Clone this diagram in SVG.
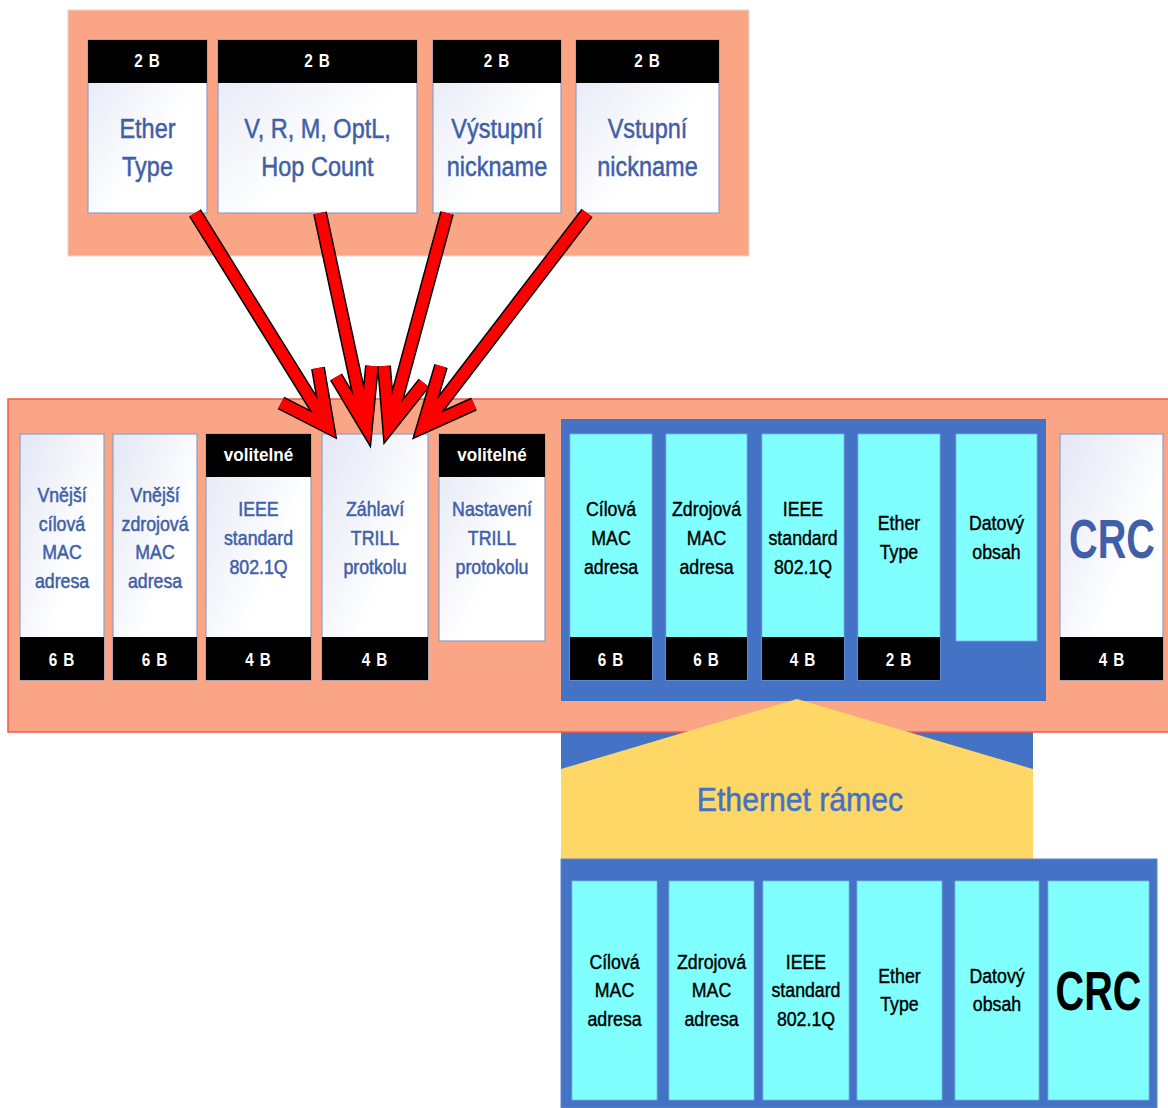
<svg xmlns="http://www.w3.org/2000/svg" width="1168" height="1108" viewBox="0 0 1168 1108">
<defs>
<linearGradient id="wg" x1="0" y1="0" x2="1" y2="1">
<stop offset="0" stop-color="#E3E7F4"/>
<stop offset="0.6" stop-color="#FFFFFF"/>
<stop offset="1" stop-color="#FFFFFF"/>
</linearGradient>
<style>
.salmon{fill:#F9A586}
.wbox{fill:url(#wg);stroke:#8C9FCB;stroke-width:1.2}
.hdr{fill:#000000}
.blue{fill:#4472C4}
.cyan{fill:#80FFFF;stroke:#7FB0E0;stroke-width:0.8}
.t{font-family:"Liberation Sans",Arial,sans-serif;text-anchor:middle;transform-box:fill-box;transform-origin:center}
.bt{fill:#3F5FA8;stroke:#3F5FA8;stroke-width:0.5}
.blk{fill:#000000;stroke:#000000;stroke-width:0.4}
.wt{fill:#FFFFFF;font-weight:bold}
.big{font-size:27px;transform:scaleX(0.87)}
.mid{font-size:19.5px;transform:scaleX(0.91)}
.sz{font-size:18px;letter-spacing:1px;transform:scaleX(0.85)}
.vol{font-size:18px;transform:scaleX(0.95)}
.crc{font-size:55px;font-weight:bold;stroke-width:0;transform:scaleX(0.72)}
.eth{font-size:33px;fill:#4472C4;stroke:#4472C4;stroke-width:0.5;transform:scaleX(0.915)}
.ao{fill:none;stroke:#000000;stroke-width:14;stroke-linejoin:miter;stroke-miterlimit:6}
.ai{fill:none;stroke:#FF0000;stroke-width:11;stroke-linejoin:miter;stroke-miterlimit:6}
</style>
</defs>

<!-- top container -->
<rect class="salmon" x="68" y="10" width="681" height="246" stroke="#E6D6CE" stroke-width="1"/>

<g id="top-ethertype">
<rect class="wbox" x="88" y="40" width="119" height="173"/>
<rect class="hdr" x="88" y="40" width="119" height="43"/>
<text class="t wt sz" x="147.5" y="67">2 B</text>
<text class="t bt big" x="147.5" y="138">Ether</text>
<text class="t bt big" x="147.5" y="176">Type</text>
</g>
<g id="top-flags">
<rect class="wbox" x="218" y="40" width="199" height="173"/>
<rect class="hdr" x="218" y="40" width="199" height="43"/>
<text class="t wt sz" x="317.5" y="67">2 B</text>
<text class="t bt big" x="317.5" y="138">V, R, M, OptL,</text>
<text class="t bt big" x="317.5" y="176">Hop Count</text>
</g>
<g id="top-egress">
<rect class="wbox" x="433" y="40" width="128" height="173"/>
<rect class="hdr" x="433" y="40" width="128" height="43"/>
<text class="t wt sz" x="497" y="67">2 B</text>
<text class="t bt big" x="497" y="138">Výstupní</text>
<text class="t bt big" x="497" y="176">nickname</text>
</g>
<g id="top-ingress">
<rect class="wbox" x="576" y="40" width="143" height="173"/>
<rect class="hdr" x="576" y="40" width="143" height="43"/>
<text class="t wt sz" x="647.5" y="67">2 B</text>
<text class="t bt big" x="647.5" y="138">Vstupní</text>
<text class="t bt big" x="647.5" y="176">nickname</text>
</g>

<!-- lower blue behind yellow -->
<rect class="blue" x="561" y="720" width="472" height="140"/>

<!-- middle band -->
<rect class="salmon" x="8" y="399" width="1162" height="333" stroke="#F25A4E" stroke-width="1.5"/>

<g id="outer-dst">
<rect class="wbox" x="20" y="434" width="84" height="246"/>
<rect class="hdr" x="20" y="637" width="84" height="43"/>
<text class="t bt mid" x="62" y="502">Vnější</text>
<text class="t bt mid" x="62" y="531">cílová</text>
<text class="t bt mid" x="62" y="559">MAC</text>
<text class="t bt mid" x="62" y="588">adresa</text>
<text class="t wt sz" x="62" y="666">6 B</text>
</g>
<g id="outer-src">
<rect class="wbox" x="113" y="434" width="84" height="246"/>
<rect class="hdr" x="113" y="637" width="84" height="43"/>
<text class="t bt mid" x="155" y="502">Vnější</text>
<text class="t bt mid" x="155" y="531">zdrojová</text>
<text class="t bt mid" x="155" y="559">MAC</text>
<text class="t bt mid" x="155" y="588">adresa</text>
<text class="t wt sz" x="155" y="666">6 B</text>
</g>
<g id="outer-vlan">
<rect class="wbox" x="206" y="434" width="105" height="246"/>
<rect class="hdr" x="206" y="434" width="105" height="43"/>
<rect class="hdr" x="206" y="637" width="105" height="43"/>
<text class="t wt vol" x="258.5" y="461">volitelné</text>
<text class="t bt mid" x="258.5" y="516">IEEE</text>
<text class="t bt mid" x="258.5" y="545">standard</text>
<text class="t bt mid" x="258.5" y="574">802.1Q</text>
<text class="t wt sz" x="258.5" y="666">4 B</text>
</g>
<g id="trill-header">
<rect class="wbox" x="322" y="434" width="106" height="246"/>
<rect class="hdr" x="322" y="637" width="106" height="43"/>
<text class="t bt mid" x="375" y="516">Záhlaví</text>
<text class="t bt mid" x="375" y="545">TRILL</text>
<text class="t bt mid" x="375" y="574">protkolu</text>
<text class="t wt sz" x="375" y="666">4 B</text>
</g>
<g id="trill-options">
<rect class="wbox" x="439" y="434" width="106" height="207"/>
<rect class="hdr" x="439" y="434" width="106" height="43"/>
<text class="t wt vol" x="492" y="461">volitelné</text>
<text class="t bt mid" x="492" y="516">Nastavení</text>
<text class="t bt mid" x="492" y="545">TRILL</text>
<text class="t bt mid" x="492" y="574">protokolu</text>
</g>

<g id="inner-frame">
<rect class="blue" x="561" y="419" width="485" height="282"/>
<g id="inner-dst">
<rect class="cyan" x="570" y="434" width="82" height="246"/>
<rect class="hdr" x="570" y="637" width="82" height="43"/>
<text class="t blk mid" x="611" y="516">Cílová</text>
<text class="t blk mid" x="611" y="545">MAC</text>
<text class="t blk mid" x="611" y="574">adresa</text>
<text class="t wt sz" x="611" y="666">6 B</text>
</g>
<g id="inner-src">
<rect class="cyan" x="666" y="434" width="81" height="246"/>
<rect class="hdr" x="666" y="637" width="81" height="43"/>
<text class="t blk mid" x="706.5" y="516">Zdrojová</text>
<text class="t blk mid" x="706.5" y="545">MAC</text>
<text class="t blk mid" x="706.5" y="574">adresa</text>
<text class="t wt sz" x="706.5" y="666">6 B</text>
</g>
<g id="inner-vlan">
<rect class="cyan" x="762" y="434" width="82" height="246"/>
<rect class="hdr" x="762" y="637" width="82" height="43"/>
<text class="t blk mid" x="803" y="516">IEEE</text>
<text class="t blk mid" x="803" y="545">standard</text>
<text class="t blk mid" x="803" y="574">802.1Q</text>
<text class="t wt sz" x="803" y="666">4 B</text>
</g>
<g id="inner-ethertype">
<rect class="cyan" x="858" y="434" width="82" height="246"/>
<rect class="hdr" x="858" y="637" width="82" height="43"/>
<text class="t blk mid" x="899" y="530">Ether</text>
<text class="t blk mid" x="899" y="559">Type</text>
<text class="t wt sz" x="899" y="666">2 B</text>
</g>
<g id="inner-payload">
<rect class="cyan" x="956" y="434" width="81" height="207"/>
<text class="t blk mid" x="996.5" y="530">Datový</text>
<text class="t blk mid" x="996.5" y="559">obsah</text>
</g>
</g>

<g id="outer-crc">
<rect class="wbox" x="1060" y="434" width="103" height="246"/>
<rect class="hdr" x="1060" y="637" width="103" height="43"/>
<text class="t bt crc" x="1112" y="558">CRC</text>
<text class="t wt sz" x="1112" y="666">4 B</text>
</g>

<g id="ethernet-label">
<polygon points="561,769 797,699 1033,769 1033,860 561,860" fill="#FED766"/>
<text class="t eth" x="800" y="811">Ethernet rámec</text>
</g>

<g id="ethernet-frame">
<rect class="blue" x="561" y="859" width="596" height="249" stroke="#5E86CF" stroke-width="1"/>
<g id="eth-dst">
<rect class="cyan" x="572" y="881" width="85" height="219"/>
<text class="t blk mid" x="614.5" y="969">Cílová</text>
<text class="t blk mid" x="614.5" y="997">MAC</text>
<text class="t blk mid" x="614.5" y="1026">adresa</text>
</g>
<g id="eth-src">
<rect class="cyan" x="669" y="881" width="85" height="219"/>
<text class="t blk mid" x="711.5" y="969">Zdrojová</text>
<text class="t blk mid" x="711.5" y="997">MAC</text>
<text class="t blk mid" x="711.5" y="1026">adresa</text>
</g>
<g id="eth-vlan">
<rect class="cyan" x="763" y="881" width="86" height="219"/>
<text class="t blk mid" x="806" y="969">IEEE</text>
<text class="t blk mid" x="806" y="997">standard</text>
<text class="t blk mid" x="806" y="1026">802.1Q</text>
</g>
<g id="eth-ethertype">
<rect class="cyan" x="857" y="881" width="85" height="219"/>
<text class="t blk mid" x="899.5" y="983">Ether</text>
<text class="t blk mid" x="899.5" y="1011">Type</text>
</g>
<g id="eth-payload">
<rect class="cyan" x="955" y="881" width="84" height="219"/>
<text class="t blk mid" x="997" y="983">Datový</text>
<text class="t blk mid" x="997" y="1011">obsah</text>
</g>
<g id="eth-crc">
<rect class="cyan" x="1048" y="881" width="101" height="219"/>
<text class="t blk crc" x="1098.5" y="1010">CRC</text>
</g>
</g>

<!-- connectors -->
<g id="connectors">
<path class="ao" d="M195,213 L328,427 M281,403 L328,427 L318,368"/>
<path class="ai" d="M195,213 L328,427 M281,403 L328,427 L318,368"/>
<path class="ao" d="M320,213 L366,427 M336,377 L366,427 L372,366"/>
<path class="ai" d="M320,213 L366,427 M336,377 L366,427 L372,366"/>
<path class="ao" d="M447,213 L389,427 M384,366 L389,427 L424,383"/>
<path class="ai" d="M447,213 L389,427 M384,366 L389,427 L424,383"/>
<path class="ao" d="M587,213 L423,427 M441,366 L423,427 L474,404"/>
<path class="ai" d="M587,213 L423,427 M441,366 L423,427 L474,404"/>
</g>
</svg>
